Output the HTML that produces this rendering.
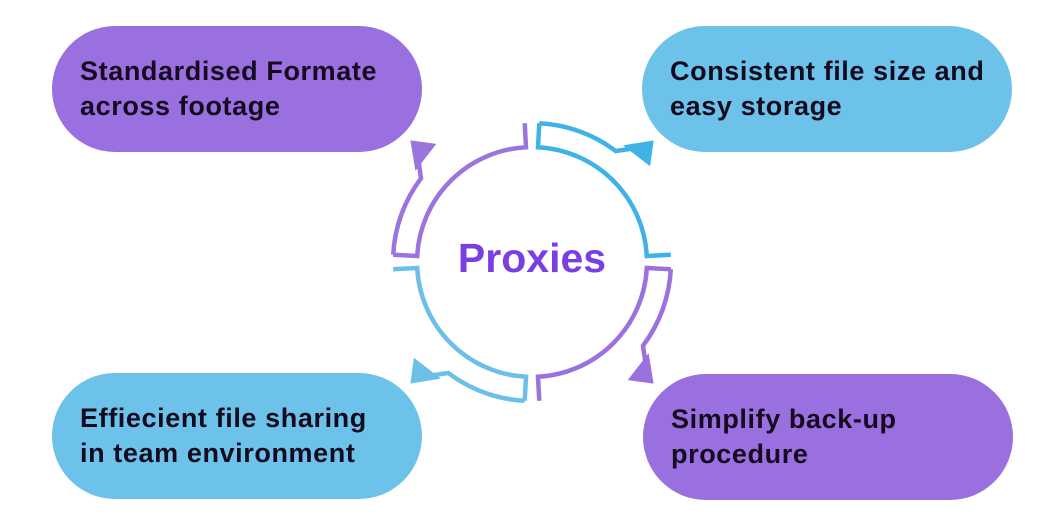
<!DOCTYPE html>
<html><head><meta charset="utf-8"><style>
html,body{margin:0;padding:0;background:#fff;width:1064px;height:525px;overflow:hidden;position:relative;font-family:"Liberation Sans",sans-serif}
.b{position:absolute;width:370px;height:126px;border-radius:63px;box-sizing:border-box;padding-left:28px;padding-top:28px;font-weight:bold;font-size:27px;line-height:35px;color:#150b1f;letter-spacing:0.6px;white-space:nowrap}
.p{background:#9a70e1}.c{background:#6dc2ea}
#px{position:absolute;left:432px;top:235px;width:200px;text-align:center;font-weight:bold;font-size:41px;color:#7a3fe3}
</style></head><body>
<div class="b p" style="left:52px;top:26px">Standardised Formate<br>across footage</div>
<div class="b c" style="left:642px;top:26px">Consistent file size and<br>easy storage</div>
<div class="b c" style="left:52px;top:373px">Effiecient file sharing<br>in team environment</div>
<div class="b p" style="left:643px;top:374px">Simplify back-up<br>procedure</div>
<svg id="s" width="1064" height="525" style="position:absolute;left:0;top:0"></svg>
<div id="px">Proxies</div>
<script>
var cx=532,cy=262,ri=115,ro=139;
function P(r,a){a=a*Math.PI/180;return [(cx+r*Math.cos(a)).toFixed(1),(cy+r*Math.sin(a)).toFixed(1)];}
function q(s,col){
 var e=s+90,g=3;var h='';
 var a=P(ro,s+g),b=P(ri,s+g),c=P(ri,e-g),d=P(ro,e-g);
 h+='<path d="M'+a+' L'+b+' A'+ri+' '+ri+' 0 0 1 '+c+' L'+d+'" fill="none" stroke="'+col+'" stroke-width="4.5"/>';
 var m=P(ro,s+37),n=P(ro+14,s+42);
 h+='<path d="M'+a+' A'+ro+' '+ro+' 0 0 1 '+m+' L'+n+'" fill="none" stroke="'+col+'" stroke-width="4.5"/>';
 var t=P(172,s+45),L=P(148,s+38),R=P(152,s+51);
 h+='<polygon points="'+t+' '+L+' '+R+'" fill="'+col+'"/>';
 return h;}
document.getElementById('s').innerHTML=q(180,'#9b74e0')+q(270,'#3fb2e6')+q(0,'#9a72e0')+q(90,'#6cc0e8');
</script>
</body></html>
